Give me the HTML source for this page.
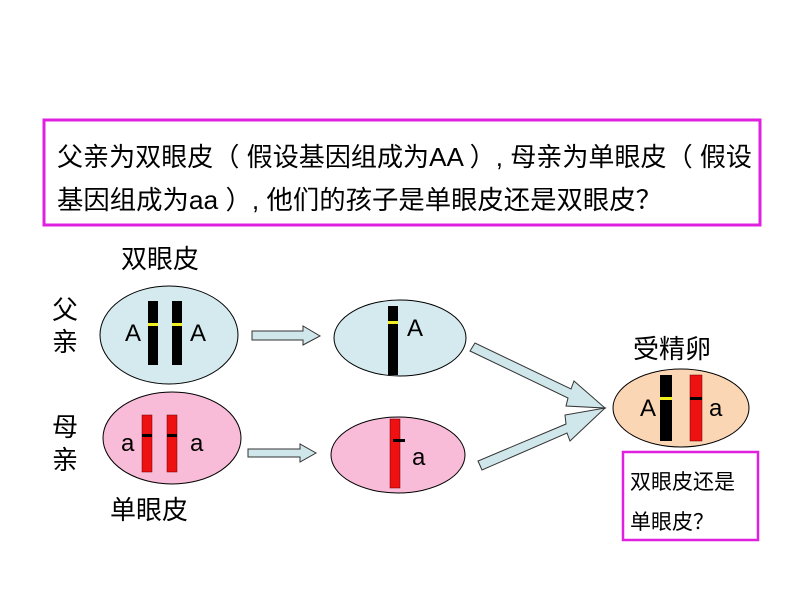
<!DOCTYPE html>
<html><head><meta charset="utf-8"><style>
html,body{margin:0;padding:0;background:#fff;}
svg{display:block;}
text{font-family:"Liberation Sans","Noto Sans CJK SC",sans-serif;fill:#000;}
</style></head><body>
<svg width="794" height="596" viewBox="0 0 794 596" xmlns="http://www.w3.org/2000/svg">
<rect x="44" y="120" width="716" height="105" fill="#fff" stroke="#e020e0" stroke-width="3"/>
<text x="57" y="166" font-size="26" textLength="695" lengthAdjust="spacingAndGlyphs">父亲为双眼皮（ 假设基因组成为AA ）, 母亲为单眼皮（ 假设</text>
<text x="57" y="209" font-size="26" textLength="605" lengthAdjust="spacingAndGlyphs">基因组成为aa ）, 他们的孩子是单眼皮还是双眼皮？</text>

<text x="121" y="268" font-size="26">双眼皮</text>
<text x="52" y="319" font-size="26">父</text>
<text x="52" y="351" font-size="26">亲</text>
<text x="52" y="436" font-size="26">母</text>
<text x="52" y="469" font-size="26">亲</text>
<text x="110" y="519" font-size="26">单眼皮</text>

<ellipse cx="169" cy="335" rx="69" ry="49" fill="#d4eaee" stroke="#000" stroke-width="1"/>
<rect x="148" y="301" width="10" height="64" fill="#000"/>
<rect x="172" y="301" width="10" height="64" fill="#000"/>
<rect x="148" y="323" width="10" height="3" fill="#f0f020"/>
<rect x="172" y="323" width="10" height="3" fill="#f0f020"/>
<text x="125" y="341" font-size="24">A</text>
<text x="190" y="341" font-size="24">A</text>

<polygon points="252,331 303,331 303,326 320,336 303,345 303,340 252,340" fill="#cfe6ea" stroke="#333" stroke-width="1"/>

<ellipse cx="400" cy="338" rx="66" ry="38" fill="#d4eaee" stroke="#000" stroke-width="1"/>
<rect x="388" y="306" width="10" height="69" fill="#000"/>
<rect x="388" y="321" width="10" height="3" fill="#f0f020"/>
<text x="407" y="336" font-size="24">A</text>

<ellipse cx="172" cy="438" rx="69" ry="46" fill="#f9bcd8" stroke="#000" stroke-width="1"/>
<rect x="142" y="415" width="10" height="57" fill="#ee1111" stroke="#600" stroke-width="0.5"/>
<rect x="167" y="415" width="10" height="57" fill="#ee1111" stroke="#600" stroke-width="0.5"/>
<rect x="142" y="434" width="10" height="3" fill="#000"/>
<rect x="167" y="434" width="10" height="3" fill="#000"/>
<text x="121" y="451" font-size="24">a</text>
<text x="190" y="451" font-size="24">a</text>

<polygon points="248,449 300,449 300,444 316,453 300,462 300,457 248,457" fill="#cfe6ea" stroke="#333" stroke-width="1"/>

<ellipse cx="398" cy="455" rx="67" ry="38" fill="#f9bcd8" stroke="#000" stroke-width="1"/>
<rect x="390" y="419" width="10" height="69" fill="#ee1111" stroke="#600" stroke-width="0.5"/>
<rect x="393" y="439" width="12" height="3" fill="#000"/>
<text x="412" y="465" font-size="24">a</text>

<polygon points="470,351 475,343 571,389 574,381 605,408 566,406 568,398" fill="#cfe6ea" stroke="#333" stroke-width="1"/>
<polygon points="478,461 482,470 567,433 570,441 605,408 565,415 566,424" fill="#cfe6ea" stroke="#333" stroke-width="1"/>

<text x="633" y="358" font-size="26">受精卵</text>
<ellipse cx="681" cy="408" rx="68" ry="39" fill="#fbd6b4" stroke="#000" stroke-width="1"/>
<rect x="660" y="375" width="12" height="66" fill="#000"/>
<rect x="660" y="397" width="12" height="3" fill="#f0f020"/>
<rect x="690" y="375" width="12" height="66" fill="#ee1111" stroke="#600" stroke-width="0.5"/>
<rect x="690" y="397" width="12" height="3" fill="#000"/>
<text x="640" y="416" font-size="24">A</text>
<text x="709" y="416" font-size="24">a</text>

<rect x="623" y="452" width="135" height="88" fill="#fff" stroke="#e020e0" stroke-width="2.5"/>
<text x="630" y="489" font-size="21">双眼皮还是</text>
<text x="630" y="529" font-size="21">单眼皮？</text>
</svg>
</body></html>
